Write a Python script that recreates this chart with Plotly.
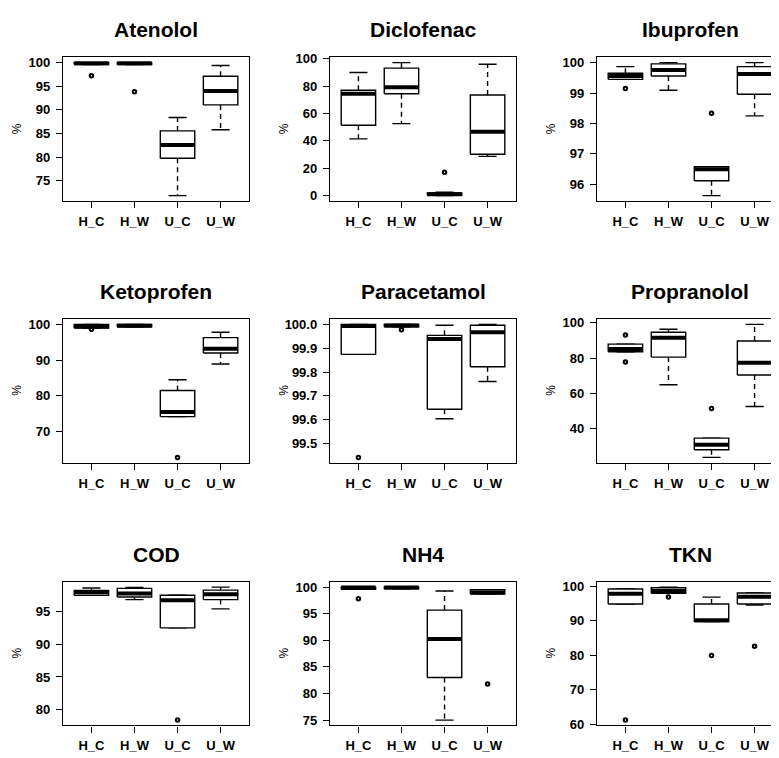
import plotly.graph_objects as go

groups = ["H_C", "H_W", "U_C", "U_W"]
panel_names = ["Atenolol", "Diclofenac", "Ibuprofen",
               "Ketoprofen", "Paracetamol", "Propranolol",
               "COD", "NH4", "TKN"]

# ---- five-number summaries per panel (lower whisker, Q1, median, Q3, upper whisker) ----
atenolol_low = [99.6, 99.6, 71.85, 85.8]
atenolol_q1 = [99.6, 99.6, 79.75, 91.05]
atenolol_med = [99.85, 99.85, 82.55, 94.0]
atenolol_q3 = [100.0, 100.0, 85.55, 97.1]
atenolol_high = [100.0, 100.0, 88.4, 99.4]
atenolol_out_g = ["H_C", "H_W"]
atenolol_out_v = [97.2, 93.85]

diclofenac_low = [41.5, 52.6, 0.0, 28.7]
diclofenac_q1 = [51.4, 74.4, 0.2, 30.3]
diclofenac_med = [74.5, 79.2, 1.0, 46.7]
diclofenac_q3 = [77.0, 93.2, 2.0, 73.5]
diclofenac_high = [90.0, 97.2, 2.5, 96.0]
diclofenac_out_g = ["U_C"]
diclofenac_out_v = [17.1]

ibuprofen_low = [99.45, 99.09, 95.63, 98.25]
ibuprofen_q1 = [99.45, 99.56, 96.12, 98.96]
ibuprofen_med = [99.56, 99.76, 96.5, 99.63]
ibuprofen_q3 = [99.65, 99.96, 96.58, 99.87]
ibuprofen_high = [99.87, 100.0, 96.58, 100.0]
ibuprofen_out_g = ["H_C", "U_C"]
ibuprofen_out_v = [99.15, 98.34]

ketoprofen_low = [99.0, 99.3, 74.2, 88.9]
ketoprofen_q1 = [99.0, 99.3, 74.2, 92.0]
ketoprofen_med = [99.4, 99.6, 75.5, 93.2]
ketoprofen_q3 = [100.0, 100.0, 81.5, 96.3]
ketoprofen_high = [100.0, 100.0, 84.5, 97.8]
ketoprofen_out_g = ["H_C", "U_C"]
ketoprofen_out_v = [98.6, 62.8]

paracetamol_low = [99.874, 99.99, 99.604, 99.760]
paracetamol_q1 = [99.874, 99.99, 99.644, 99.822]
paracetamol_med = [99.993, 99.995, 99.939, 99.967]
paracetamol_q3 = [100.0, 100.0, 99.954, 99.996]
paracetamol_high = [100.0, 100.0, 99.996, 100.0]
paracetamol_out_g = ["H_C", "H_W"]
paracetamol_out_v = [99.442, 99.977]

propranolol_low = [83.6, 65.0, 23.9, 52.7]
propranolol_q1 = [83.6, 80.6, 28.2, 70.5]
propranolol_med = [85.2, 91.6, 31.0, 77.4]
propranolol_q3 = [87.9, 94.6, 34.8, 89.7]
propranolol_high = [87.9, 96.3, 34.8, 99.1]
propranolol_out_g = ["H_C", "H_C", "U_C"]
propranolol_out_v = [93.1, 77.8, 51.6]

cod_low = [97.53, 96.87, 92.53, 95.45]
cod_q1 = [97.53, 97.27, 92.53, 96.87]
cod_med = [98.03, 97.8, 96.77, 97.68]
cod_q3 = [98.28, 98.6, 97.53, 98.33]
cod_high = [98.65, 98.74, 97.53, 98.79]
cod_out_g = ["U_C"]
cod_out_v = [78.38]

nh4_low = [99.6, 99.7, 75.0, 98.7]
nh4_q1 = [99.6, 99.7, 83.0, 98.7]
nh4_med = [99.9, 99.9, 90.25, 99.0]
nh4_q3 = [100.0, 100.0, 95.68, 99.5]
nh4_high = [100.0, 100.0, 99.26, 99.5]
nh4_out_g = ["H_C", "U_W"]
nh4_out_v = [97.8, 81.8]

tkn_low = [94.8, 97.9, 89.7, 94.5]
tkn_q1 = [94.8, 97.9, 89.7, 94.8]
tkn_med = [97.8, 98.6, 90.1, 96.9]
tkn_q3 = [99.15, 99.5, 94.8, 98.0]
tkn_high = [99.15, 99.7, 96.8, 98.0]
tkn_out_g = ["H_C", "H_W", "U_C", "U_W"]
tkn_out_v = [61.2, 96.8, 79.9, 82.6]

# ---- y tick values / labels per panel ----
atenolol_ticks = [75, 80, 85, 90, 95, 100]
diclofenac_ticks = [0, 20, 40, 60, 80, 100]
ibuprofen_ticks = [96, 97, 98, 99, 100]
ketoprofen_ticks = [70, 80, 90, 100]
paracetamol_ticks = [99.5, 99.6, 99.7, 99.8, 99.9, 100.0]
paracetamol_ticklabels = ["99.5", "99.6", "99.7", "99.8", "99.9", "100.0"]
propranolol_ticks = [40, 60, 80, 100]
cod_ticks = [80, 85, 90, 95]
nh4_ticks = [75, 80, 85, 90, 95, 100]
tkn_ticks = [60, 70, 80, 90, 100]

panels = [
    (atenolol_low, atenolol_q1, atenolol_med, atenolol_q3, atenolol_high, atenolol_out_g, atenolol_out_v, atenolol_ticks, None),
    (diclofenac_low, diclofenac_q1, diclofenac_med, diclofenac_q3, diclofenac_high, diclofenac_out_g, diclofenac_out_v, diclofenac_ticks, None),
    (ibuprofen_low, ibuprofen_q1, ibuprofen_med, ibuprofen_q3, ibuprofen_high, ibuprofen_out_g, ibuprofen_out_v, ibuprofen_ticks, None),
    (ketoprofen_low, ketoprofen_q1, ketoprofen_med, ketoprofen_q3, ketoprofen_high, ketoprofen_out_g, ketoprofen_out_v, ketoprofen_ticks, None),
    (paracetamol_low, paracetamol_q1, paracetamol_med, paracetamol_q3, paracetamol_high, paracetamol_out_g, paracetamol_out_v, paracetamol_ticks, paracetamol_ticklabels),
    (propranolol_low, propranolol_q1, propranolol_med, propranolol_q3, propranolol_high, propranolol_out_g, propranolol_out_v, propranolol_ticks, None),
    (cod_low, cod_q1, cod_med, cod_q3, cod_high, cod_out_g, cod_out_v, cod_ticks, None),
    (nh4_low, nh4_q1, nh4_med, nh4_q3, nh4_high, nh4_out_g, nh4_out_v, nh4_ticks, None),
    (tkn_low, tkn_q1, tkn_med, tkn_q3, tkn_high, tkn_out_g, tkn_out_v, tkn_ticks, None),
]

# ---- layout geometry (pixels, in page coordinates; the page body has an 8px margin) ----
OFF = 8
W, H = 779 - OFF, 758 - OFF
col_left = [63 - OFF, 330 - OFF, 597 - OFF]
row_top = [52 - OFF, 318 - OFF, 585 - OFF]
PW, PH = 186, 146
XMIN, XMAX = 0.34, 4.66
BOX_HW = 0.40   # half box width (x units)
CAP_HW = 0.21   # half staple width
FONT = "Liberation Sans, Arial, Helvetica, sans-serif"
LW = 1.4

fig = go.Figure()
layout = dict(
    width=W, height=H,
    margin=dict(l=0, r=0, t=0, b=0),
    paper_bgcolor="white", plot_bgcolor="white",
    showlegend=False,
    annotations=[],
)

for k, (lo, q1, md, q3, hi, og, ov, ticks, ticklabels) in enumerate(panels):
    r, c = divmod(k, 3)
    sfx = "" if k == 0 else str(k + 1)
    xa, ya = "x" + sfx, "y" + sfx

    bx, by, mx, my, wx, wy, sx, sy = [], [], [], [], [], [], [], []
    for i in range(len(groups)):
        x = i + 1
        bx += [x - BOX_HW, x + BOX_HW, x + BOX_HW, x - BOX_HW, x - BOX_HW, None]
        by += [q1[i], q1[i], q3[i], q3[i], q1[i], None]
        mx += [x - BOX_HW, x + BOX_HW, None]
        my += [md[i], md[i], None]
        wx += [x, x, None, x, x, None]
        wy += [q3[i], hi[i], None, q1[i], lo[i], None]
        sx += [x - CAP_HW, x + CAP_HW, None, x - CAP_HW, x + CAP_HW, None]
        sy += [hi[i], hi[i], None, lo[i], lo[i], None]

    fig.add_trace(go.Scatter(x=wx, y=wy, mode="lines", xaxis=xa, yaxis=ya,
                             line=dict(color="black", width=LW, dash="5px,4px"),
                             hoverinfo="skip"))
    fig.add_trace(go.Scatter(x=sx, y=sy, mode="lines", xaxis=xa, yaxis=ya,
                             line=dict(color="black", width=LW), hoverinfo="skip"))
    fig.add_trace(go.Scatter(x=bx, y=by, mode="lines", fill="toself", fillcolor="white",
                             xaxis=xa, yaxis=ya,
                             line=dict(color="black", width=LW), hoverinfo="skip"))
    fig.add_trace(go.Scatter(x=mx, y=my, mode="lines", xaxis=xa, yaxis=ya,
                             line=dict(color="black", width=4), hoverinfo="skip"))
    ox = [groups.index(g) + 1 for g in og]
    fig.add_trace(go.Scatter(x=ox, y=ov, mode="markers", xaxis=xa, yaxis=ya,
                             marker=dict(symbol="circle-open", size=3.5, color="black",
                                         line=dict(width=2, color="black")),
                             hoverinfo="skip"))

    allv = lo + hi + list(ov)
    vmin, vmax = min(allv), max(allv)
    pad = 0.04 * (vmax - vmin)

    x0 = col_left[c]
    x1 = min(x0 + PW, W)
    xmax = XMIN + (x1 - x0) / PW * (XMAX - XMIN)
    top = row_top[r]

    layout["xaxis" + sfx] = dict(
        domain=[x0 / W, x1 / W], anchor=ya, range=[XMIN, xmax],
        tickmode="array", tickvals=[1, 2, 3, 4], ticktext=groups,
        showline=True, mirror=True, linecolor="black", linewidth=LW,
        ticks="outside", ticklen=6, tickwidth=LW, tickcolor="black",
        showgrid=False, zeroline=False, ticklabelstandoff=2,
        tickfont=dict(family=FONT, size=13, color="black", weight="bold"),
    )
    layout["yaxis" + sfx] = dict(
        domain=[1 - (top + PH) / H, 1 - top / H], anchor=xa,
        range=[vmin - pad, vmax + pad],
        tickmode="array", tickvals=ticks,
        ticktext=ticklabels if ticklabels else [str(t) for t in ticks],
        showline=True, mirror=(c < 2), linecolor="black", linewidth=LW,
        ticks="outside", ticklen=6, tickwidth=LW, tickcolor="black",
        showgrid=False, zeroline=False, ticklabelstandoff=3,
        tickfont=dict(family=FONT, size=13, color="black", weight="bold"),
    )
    layout["annotations"].append(dict(
        text="<b>%s</b>" % panel_names[k], xref="paper", yref="paper",
        x=(x0 + PW / 2) / W, y=1 - (top - 28) / H, xanchor="center", yanchor="middle",
        showarrow=False, font=dict(family=FONT, size=21, color="black")))
    layout["annotations"].append(dict(
        text="%", xref="paper", yref="paper", textangle=-90,
        x=(x0 - 46) / W, y=1 - (top + PH / 2) / H, xanchor="center", yanchor="middle",
        showarrow=False, font=dict(family=FONT, size=12, color="black")))

fig.update_layout(**layout)
fig.write_html("out.html")
